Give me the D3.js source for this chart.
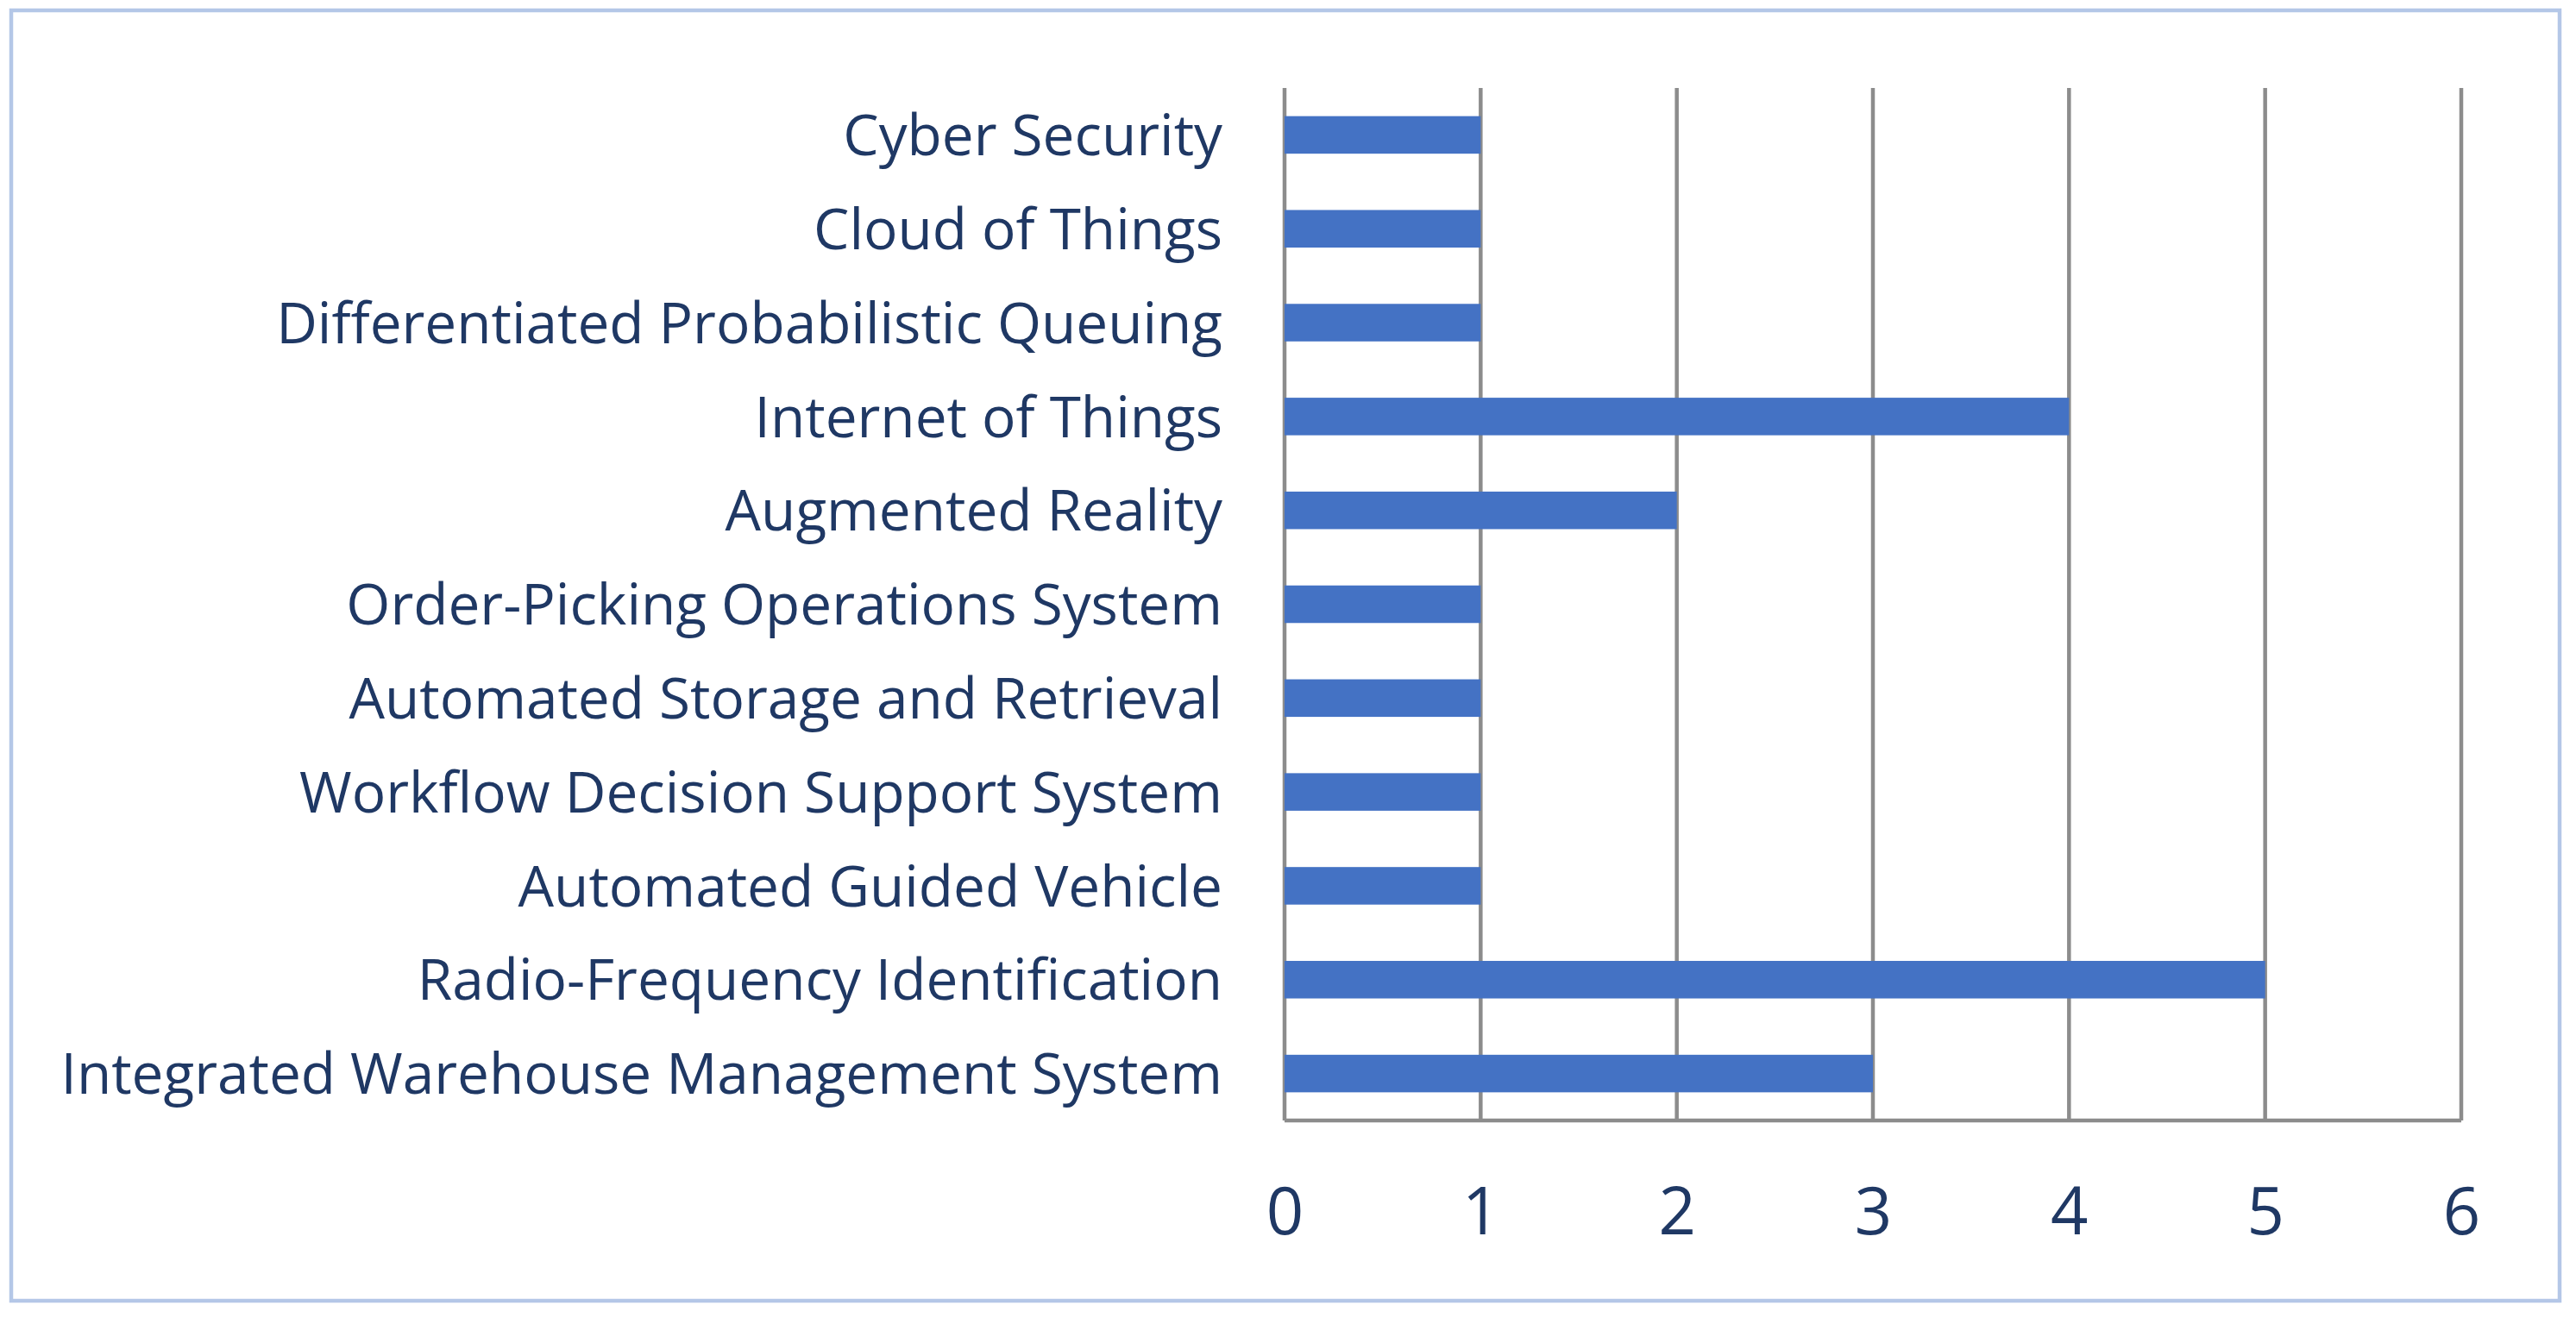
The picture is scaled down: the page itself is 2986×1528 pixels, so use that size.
<!DOCTYPE html>
<html>
<head>
<meta charset="utf-8">
<script src="https://cdn.jsdelivr.net/npm/d3@7"></script>
<style>
  html, body { margin: 0; padding: 0; background: #fff; }
  .cat text { font-family: "Open Sans", sans-serif; font-size: 65.7px; fill: #1f3864; }
  .x text { font-family: "Open Sans", sans-serif; font-size: 76px; fill: #1f3864; }
</style>
</head>
<body>
<div id="chart"></div>
<script>
  // Categories listed bottom to top as in the source chart
  var categories = ["Integrated Warehouse Management System", "Radio-Frequency Identification",
      "Automated Guided Vehicle", "Workflow Decision Support System", "Automated Storage and Retrieval",
      "Order-Picking Operations System", "Augmented Reality", "Internet of Things",
      "Differentiated Probabilistic Queuing", "Cloud of Things", "Cyber Security"];
  var counts = [3, 5, 1, 1, 1, 1, 2, 4, 1, 1, 1];
  var xTicks = [0, 1, 2, 3, 4, 5, 6];

  var W = 2986, H = 1528;
  var margin = { top: 102, right: 133, bottom: 229, left: 1489 };
  var width = W - margin.left - margin.right,
      height = H - margin.top - margin.bottom;

  var svg = d3.select("#chart").append("svg")
      .attr("width", W)
      .attr("height", H);

  // light blue frame round the whole chart
  svg.append("rect")
      .attr("x", 13).attr("y", 12)
      .attr("width", 2954).attr("height", 1496)
      .attr("fill", "none")
      .attr("stroke", "#b4c7e7")
      .attr("stroke-width", 4.5);

  var g = svg.append("g")
      .attr("transform", "translate(" + margin.left + "," + margin.top + ")");

  var xScale = d3.scaleLinear()
      .domain([0, 6])
      .range([0, width]);

  // top category first from the top of the plot
  var yScale = d3.scaleBand()
      .domain(categories.slice().reverse())
      .range([0, height])
      .paddingInner(0.6)
      .paddingOuter(0.3);

  // vertical gridlines
  g.append("g")
      .attr("class", "grid")
      .selectAll("line")
      .data(xTicks)
      .enter().append("line")
      .attr("x1", function(d) { return xScale(d); })
      .attr("x2", function(d) { return xScale(d); })
      .attr("y1", 0)
      .attr("y2", height)
      .attr("stroke", "#8c8c8c")
      .attr("stroke-width", 4.5);

  g.selectAll(".bar")
      .data(counts)
      .enter().append("rect")
      .attr("class", "bar")
      .attr("x", xScale(0))
      .attr("y", function(d, i) { return yScale(categories[i]); })
      .attr("width", function(d) { return xScale(d) - xScale(0); })
      .attr("height", yScale.bandwidth())
      .attr("fill", "#4472c4");

  // bottom axis line
  g.append("line")
      .attr("x1", 0).attr("x2", width)
      .attr("y1", height).attr("y2", height)
      .attr("stroke", "#8c8c8c")
      .attr("stroke-width", 4.5);

  var xAxis = d3.axisBottom(xScale)
      .tickValues(xTicks)
      .tickSize(0)
      .tickPadding(78)
      .tickFormat(d3.format("d"));

  var xg = g.append("g")
      .attr("class", "x")
      .attr("transform", "translate(0," + height + ")")
      .call(xAxis);
  xg.select(".domain").remove();

  var yAxis = d3.axisLeft(yScale)
      .tickSize(0)
      .tickPadding(72);

  var yg = g.append("g")
      .attr("class", "cat")
      .call(yAxis);
  yg.select(".domain").remove();
  yg.selectAll("text").attr("dy", "0.36em");
</script>
</body>
</html>
